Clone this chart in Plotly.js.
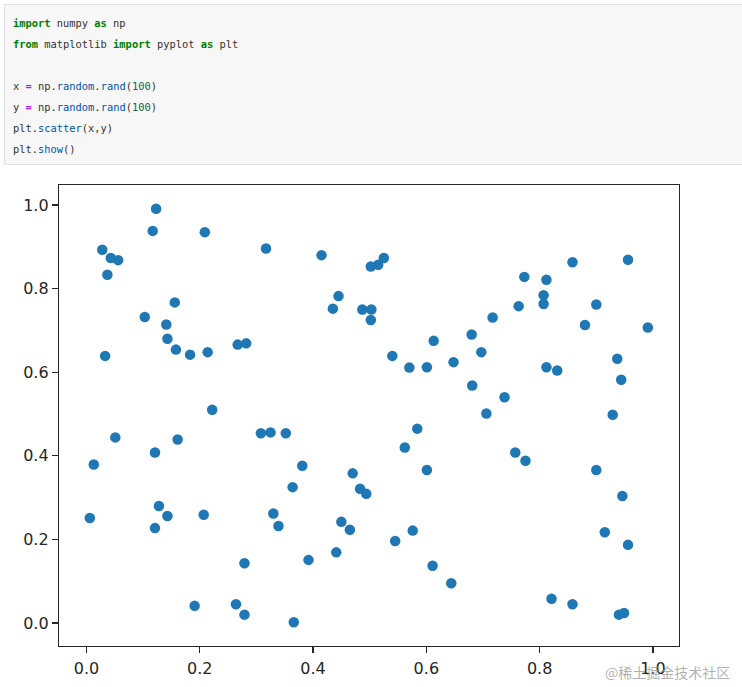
<!DOCTYPE html>
<html>
<head>
<meta charset="utf-8">
<script src="https://cdn.plot.ly/plotly-3.0.1.min.js"></script>
<style>
  html, body { margin: 0; padding: 0; background: #ffffff; }
  #wrap { position: relative; width: 742px; height: 687px; overflow: hidden; }
  #chart { position: absolute; left: 0; top: 0; width: 742px; height: 687px; }
  #code {
    position: absolute; left: 4px; top: 4px; width: 738px; height: 161px;
    box-sizing: border-box; background: #f7f7f7; border: 1px solid #e0e0e0; border-right: none;
    font-family: "DejaVu Sans Mono", "Liberation Mono", monospace; font-size: 10.4px;
    color: #333; padding: 8px 0 0 8px; z-index: 2;
  }
  #code div { height: 21px; line-height: 21px; white-space: pre; }
  .kw { color: #008000; font-weight: bold; }
  .op { color: #aa22ff; font-weight: bold; }
  .pr { color: #0055aa; }
  .nm { color: #116644; }
</style>
</head>
<body>
<div id="wrap">
<div id="chart"></div>
<div id="code">
<div><span class="kw">import</span> numpy <span class="kw">as</span> np</div>
<div><span class="kw">from</span> matplotlib <span class="kw">import</span> pyplot <span class="kw">as</span> plt</div>
<div></div>
<div>x <span class="op">=</span> np.<span class="pr">random</span>.<span class="pr">rand</span>(<span class="nm">100</span>)</div>
<div>y <span class="op">=</span> np.<span class="pr">random</span>.<span class="pr">rand</span>(<span class="nm">100</span>)</div>
<div>plt.<span class="pr">scatter</span>(x,y)</div>
<div>plt.<span class="pr">show</span>()</div>
</div>
</div>
<script>
// Scatter values
const xValues = [
  0.123, 0.117, 0.209, 0.317, 0.028, 0.043, 0.056, 0.037, 0.156, 0.103,
  0.141, 0.143, 0.158, 0.183, 0.214, 0.267, 0.282, 0.033, 0.222, 0.415,
  0.525, 0.515, 0.502, 0.445, 0.435, 0.487, 0.503, 0.502, 0.680, 0.613,
  0.540, 0.570, 0.601, 0.648, 0.681, 0.697, 0.858, 0.956, 0.773, 0.812,
  0.807, 0.807, 0.763, 0.900, 0.717, 0.880, 0.991, 0.937, 0.812, 0.831,
  0.944, 0.738, 0.706, 0.929, 0.051, 0.161, 0.121, 0.013, 0.308, 0.325,
  0.352, 0.128, 0.143, 0.207, 0.006, 0.121, 0.279, 0.191, 0.264, 0.279,
  0.584, 0.562, 0.601, 0.381, 0.364, 0.470, 0.483, 0.494, 0.330, 0.339,
  0.450, 0.465, 0.576, 0.545, 0.441, 0.392, 0.611, 0.644, 0.366, 0.757,
  0.775, 0.900, 0.946, 0.915, 0.956, 0.821, 0.858, 0.940, 0.949
];
const yValues = [
  0.991, 0.938, 0.935, 0.896, 0.893, 0.873, 0.868, 0.833, 0.767, 0.732,
  0.714, 0.680, 0.654, 0.642, 0.648, 0.666, 0.669, 0.639, 0.510, 0.880,
  0.873, 0.857, 0.853, 0.782, 0.752, 0.750, 0.750, 0.725, 0.690, 0.675,
  0.639, 0.611, 0.612, 0.624, 0.568, 0.648, 0.863, 0.869, 0.828, 0.821,
  0.784, 0.763, 0.758, 0.762, 0.731, 0.713, 0.707, 0.632, 0.612, 0.604,
  0.582, 0.540, 0.501, 0.498, 0.444, 0.439, 0.408, 0.379, 0.454, 0.456,
  0.454, 0.280, 0.256, 0.259, 0.251, 0.227, 0.143, 0.041, 0.045, 0.020,
  0.465, 0.420, 0.366, 0.376, 0.325, 0.358, 0.321, 0.309, 0.262, 0.232,
  0.242, 0.223, 0.221, 0.196, 0.169, 0.151, 0.137, 0.095, 0.002, 0.408,
  0.388, 0.366, 0.304, 0.217, 0.187, 0.058, 0.045, 0.020, 0.024
];
const tickValues = [0.0, 0.2, 0.4, 0.6, 0.8, 1.0];
const tickLabels = ['0.0', '0.2', '0.4', '0.6', '0.8', '1.0'];

const trace = {
  type: 'scatter', mode: 'markers', x: xValues, y: yValues,
  marker: { color: '#1f77b4', size: 10.5, line: { width: 0 } },
  hoverinfo: 'x+y'
};

const axisCommon = {
  showgrid: false, zeroline: false, showline: true, mirror: true,
  linecolor: '#262626', linewidth: 1.2,
  ticks: 'outside', ticklen: 6, tickwidth: 1.2, tickcolor: '#262626',
  tickvals: tickValues, ticktext: tickLabels,
  tickfont: { family: 'DejaVu Sans', size: 16, color: '#262626' }
};

const layout = {
  width: 742, height: 687,
  margin: { l: 59, r: 63, t: 185, b: 41 },
  paper_bgcolor: '#ffffff', plot_bgcolor: '#ffffff',
  showlegend: false,
  xaxis: Object.assign({}, axisCommon, { range: [-0.0484, 1.046], ticklabelstandoff: 2 }),
  yaxis: Object.assign({}, axisCommon, { range: [-0.055, 1.0478] }),
  annotations: [{
    text: '@稀土掘金技术社区', xref: 'paper', yref: 'paper',
    x: 1.085, y: -0.057, xanchor: 'right', yanchor: 'middle', showarrow: false,
    font: { family: 'Noto Sans CJK SC', size: 14, color: 'rgba(150,150,150,0.75)' }
  }]
};

Plotly.newPlot('chart', [trace], layout, { displayModeBar: false, staticPlot: true });
</script>
</body>
</html>
